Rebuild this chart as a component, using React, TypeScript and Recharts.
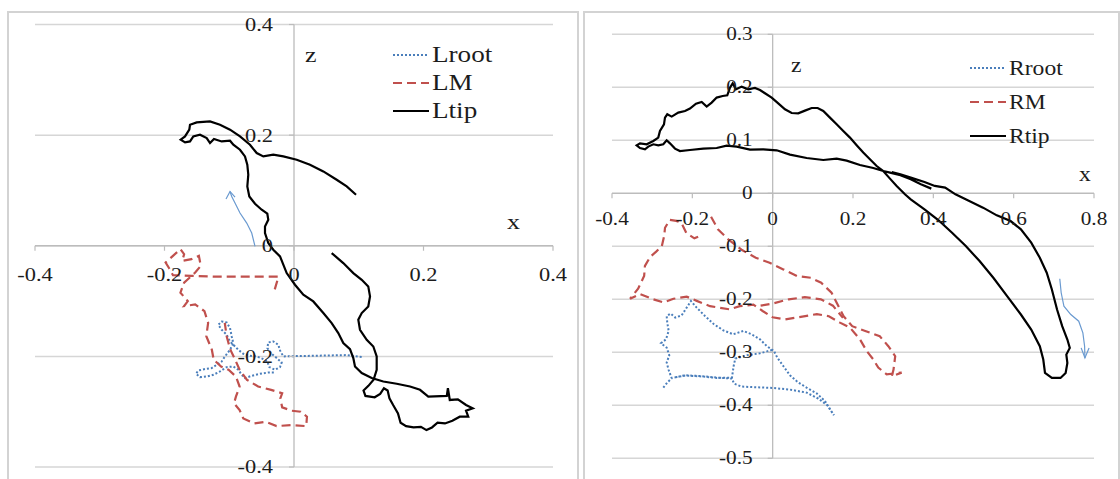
import React from 'react';
import { ScatterChart, Scatter, XAxis, YAxis, ReferenceLine, ReferenceDot } from 'recharts';

// ---------- tick values / labels ----------
const L_X_TICKS = [-0.4, -0.2, 0, 0.2, 0.4];
const L_X_LABELS = ['-0.4', '-0.2', '0', '0.2', '0.4'];
const L_Z_TICKS = [-0.4, -0.2, 0, 0.2, 0.4];
const L_Z_LABELS = ['-0.4', '-0.2', '0', '0.2', '0.4'];
const R_X_TICKS = [-0.4, -0.2, 0, 0.2, 0.4, 0.6, 0.8];
const R_X_LABELS = ['-0.4', '-0.2', '0', '0.2', '0.4', '0.6', '0.8'];
const R_Z_TICKS = [-0.5, -0.4, -0.3, -0.2, -0.1, 0, 0.1, 0.2, 0.3];
const R_Z_LABELS = ['-0.5', '-0.4', '-0.3', '-0.2', '-0.1', '0', '0.1', '0.2', '0.3'];

// ---------- left wing (x, z) ----------
const LROOT: number[][] = [
  [0.1045, -0.2013], [0.0813, -0.1977], [0.0556, -0.1983], [0.0299, -0.1989], [0.0041, -0.1995],
  [-0.0165, -0.2001], [-0.0216, -0.1893], [-0.0242, -0.179], [-0.0319, -0.173], [-0.0397, -0.1748],
  [-0.0412, -0.185], [-0.0345, -0.1953], [-0.0268, -0.2031], [-0.019, -0.211], [-0.0216, -0.2194],
  [-0.0293, -0.2242], [-0.0381, -0.2194], [-0.0412, -0.2092], [-0.0474, -0.2049], [-0.0577, -0.2001],
  [-0.068, -0.1989], [-0.0783, -0.1953], [-0.086, -0.1881], [-0.0937, -0.179], [-0.0988, -0.173],
  [-0.104, -0.1609], [-0.1117, -0.1519], [-0.1169, -0.1429], [-0.1117, -0.1369], [-0.104, -0.1387],
  [-0.0988, -0.1488], [-0.0962, -0.164], [-0.0937, -0.176], [-0.0988, -0.1881], [-0.1066, -0.2001],
  [-0.1117, -0.2092], [-0.1194, -0.2152], [-0.1271, -0.2212], [-0.1375, -0.223], [-0.1478, -0.2255],
  [-0.1514, -0.2315], [-0.1452, -0.2375], [-0.1348, -0.2363], [-0.1246, -0.2333], [-0.1143, -0.2273],
  [-0.104, -0.2194], [-0.0937, -0.2183], [-0.086, -0.2242], [-0.0808, -0.2333], [-0.0757, -0.2393],
  [-0.0653, -0.2351], [-0.0525, -0.2315], [-0.0397, -0.2291], [-0.0293, -0.2291],
];

const LM: number[][] = [
  [-0.0297, -0.0788], [-0.024, -0.0558], [-0.0554, -0.0558], [-0.0897, -0.0558], [-0.124, -0.0558],
  [-0.1583, -0.0545], [-0.1869, -0.0533], [-0.1926, -0.0412], [-0.1983, -0.0303], [-0.1869, -0.0182],
  [-0.1754, -0.0061], [-0.1697, -0.0152], [-0.1726, -0.0273], [-0.1583, -0.0242], [-0.1469, -0.0182],
  [-0.144, -0.0364], [-0.1526, -0.0485], [-0.1697, -0.0667], [-0.1754, -0.0848], [-0.164, -0.1],
  [-0.1697, -0.1091], [-0.1526, -0.1061], [-0.1383, -0.1182], [-0.1326, -0.1394], [-0.1354, -0.1636],
  [-0.1269, -0.1879], [-0.124, -0.2061], [-0.1126, -0.2182], [-0.1011, -0.2242], [-0.0897, -0.2364],
  [-0.084, -0.2545], [-0.0897, -0.2727], [-0.0926, -0.2848], [-0.084, -0.297], [-0.0783, -0.3121],
  [-0.0611, -0.3212], [-0.044, -0.3182], [-0.0269, -0.3261], [-0.004, -0.3242], [0.0189, -0.3261],
  [0.02, -0.3091], [0.0103, -0.3], [-0.004, -0.2982], [-0.0183, -0.2921], [-0.0211, -0.2758],
  [-0.0183, -0.2667], [-0.0354, -0.2606], [-0.0554, -0.2545], [-0.0726, -0.2424], [-0.084, -0.2242],
  [-0.0897, -0.2091], [-0.0983, -0.1879], [-0.104, -0.1636], [-0.1069, -0.1394],
];

const LTIP: number[][] = [
  [0.0958, 0.0922], [0.0814, 0.1072], [0.0659, 0.1193], [0.0453, 0.1344], [0.0247, 0.1465],
  [0.0042, 0.1555], [-0.0165, 0.1615], [-0.032, 0.1646], [-0.0474, 0.1615], [-0.0576, 0.1676],
  [-0.068, 0.1826], [-0.0834, 0.1976], [-0.0988, 0.2098], [-0.1143, 0.2188], [-0.1297, 0.2248],
  [-0.1503, 0.223], [-0.1606, 0.2188], [-0.1617, 0.2098], [-0.1683, 0.1976], [-0.175, 0.1917],
  [-0.1683, 0.1868], [-0.1606, 0.1886], [-0.1555, 0.1976], [-0.1452, 0.2007], [-0.1348, 0.1947],
  [-0.1297, 0.1857], [-0.1236, 0.1929], [-0.1117, 0.1886], [-0.0988, 0.1899], [-0.0937, 0.1826],
  [-0.0834, 0.1736], [-0.0757, 0.1615], [-0.0721, 0.1465], [-0.0706, 0.1284], [-0.0721, 0.1072],
  [-0.069, 0.0892], [-0.0602, 0.0759], [-0.0499, 0.0651], [-0.0412, 0.0579], [-0.0397, 0.047],
  [-0.0448, 0.0349], [-0.0448, 0.023], [-0.0397, 0.0049], [-0.032, -0.0072], [-0.0216, -0.0193],
  [-0.0113, -0.0494], [0.0015, -0.0705], [0.0144, -0.0886], [0.0298, -0.1007], [0.0453, -0.1217],
  [0.0582, -0.1398], [0.0684, -0.1579], [0.0761, -0.1759], [0.0865, -0.1868], [0.0916, -0.2031],
  [0.0942, -0.2183], [0.1046, -0.2302], [0.12, -0.2392], [0.1379, -0.2454], [0.1586, -0.2495],
  [0.1792, -0.2544], [0.1946, -0.2604], [0.2074, -0.2727], [0.236, -0.2715], [0.2377, -0.2576],
  [0.2406, -0.2788], [0.2531, -0.2776], [0.2657, -0.2879], [0.276, -0.2939], [0.2657, -0.2982],
  [0.2691, -0.3091], [0.256, -0.3091], [0.2446, -0.3164], [0.2331, -0.3212], [0.2217, -0.32],
  [0.2131, -0.3285], [0.2046, -0.3333], [0.196, -0.3273], [0.1846, -0.3285], [0.1731, -0.3261],
  [0.1646, -0.32], [0.1606, -0.303], [0.1531, -0.2879], [0.1474, -0.2758], [0.1446, -0.2618],
  [0.1389, -0.2576], [0.1331, -0.2679], [0.1246, -0.2739], [0.1103, -0.2715], [0.1074, -0.2618],
  [0.1149, -0.2533], [0.1229, -0.2424], [0.1277, -0.2242], [0.1277, -0.2001], [0.1225, -0.1821],
  [0.1123, -0.17], [0.1019, -0.1519], [0.0993, -0.1338], [0.1046, -0.1217], [0.1147, -0.1097],
  [0.1174, -0.0916], [0.1147, -0.0735], [0.1046, -0.0615], [0.0916, -0.0494], [0.0761, -0.0313],
  [0.0582, -0.0132],
];

const ARROW_L: number[][] = [
  [-0.0602, -0.0013], [-0.0653, 0.023], [-0.073, 0.041], [-0.0834, 0.0591], [-0.0911, 0.0772],
  [-0.0962, 0.0892], [-0.0988, 0.0982],
];
const ARROW_L_HEAD: number[][] = [[-0.105, 0.0844], [-0.0988, 0.0982], [-0.0911, 0.088]];

// ---------- right wing (x, z) ----------
const RROOT: number[][] = [
  [-0.2723, -0.3666], [-0.2624, -0.3572], [-0.2514, -0.349], [-0.2589, -0.3334], [-0.2639, -0.3194],
  [-0.2574, -0.3057], [-0.2639, -0.2912], [-0.2781, -0.283], [-0.2656, -0.2755], [-0.2589, -0.2598],
  [-0.2624, -0.244], [-0.2639, -0.2315], [-0.2539, -0.227], [-0.2425, -0.2345], [-0.2265, -0.2302],
  [-0.2141, -0.2157], [-0.2034, -0.2032], [-0.1892, -0.2157], [-0.1685, -0.2315], [-0.1461, -0.2472],
  [-0.123, -0.2585], [-0.0981, -0.266], [-0.0732, -0.2598], [-0.0523, -0.266], [-0.0316, -0.2755],
  [-0.0149, -0.2881], [0.0032, -0.2975], [0.0115, -0.31], [0.0264, -0.3258], [0.0431, -0.3434],
  [0.0637, -0.357], [0.0846, -0.3666], [0.1095, -0.3774], [0.1302, -0.3919], [0.1444, -0.4088],
  [0.1526, -0.4189], [0.1359, -0.4], [0.1135, -0.3874], [0.0846, -0.3761], [0.0431, -0.3704],
  [0.0015, -0.3673], [-0.0398, -0.366], [-0.0772, -0.3647], [-0.0963, -0.3591], [-0.1013, -0.3496],
  [-0.1394, -0.3477], [-0.181, -0.3447], [-0.2183, -0.3434], [-0.2457, -0.3477], [-0.2183, -0.344],
  [-0.181, -0.3453], [-0.1394, -0.3484], [-0.1013, -0.3477], [-0.0971, -0.3258], [-0.0931, -0.3119],
  [-0.0647, -0.3057], [-0.0316, -0.3019], [-0.001, -0.2957],
];

const RM: number[][] = [
  [-0.1534, -0.0441], [-0.1363, -0.068], [-0.1106, -0.0869], [-0.0763, -0.1071], [-0.042, -0.1216],
  [-0.0077, -0.131], [0.0266, -0.1436], [0.0609, -0.1562], [0.0951, -0.1594], [0.1209, -0.1688],
  [0.1466, -0.1877], [0.1594, -0.2066], [0.1766, -0.2318], [0.198, -0.2507], [0.2323, -0.2602],
  [0.2666, -0.2696], [0.288, -0.2885], [0.3051, -0.3074], [0.3009, -0.3326], [0.2966, -0.3452],
  [0.3211, -0.3383], [0.2838, -0.3415], [0.2629, -0.3289], [0.2504, -0.3132], [0.234, -0.2975],
  [0.2173, -0.2755], [0.1924, -0.2534], [0.1675, -0.244], [0.14, -0.232], [0.11, -0.228],
  [0.07, -0.233], [0.03, -0.238], [0.0, -0.234], [-0.025, -0.222], [-0.048, -0.21],
  [-0.082, -0.213], [-0.107, -0.219], [-0.131, -0.216], [-0.156, -0.213], [-0.189, -0.203],
  [-0.214, -0.195], [-0.247, -0.199], [-0.272, -0.206], [-0.297, -0.2], [-0.33, -0.19],
  [-0.355, -0.199], [-0.335, -0.18], [-0.32, -0.156], [-0.318, -0.137], [-0.305, -0.12],
  [-0.29, -0.11], [-0.276, -0.1], [-0.27, -0.08], [-0.268, -0.065], [-0.256, -0.05],
  [-0.24, -0.052], [-0.227, -0.056], [-0.215, -0.075], [-0.195, -0.085], [-0.18, -0.08],
];
const RM_BRANCH: number[][] = [
  [-0.03, -0.212], [0.0, -0.208], [0.04, -0.2], [0.08, -0.196], [0.12, -0.2], [0.15, -0.212], [0.175, -0.235],
];

const RTIP: number[][] = [
  [0.395, 0.0088], [0.369, 0.017], [0.3437, 0.0265], [0.318, 0.034], [0.2923, 0.039], [0.2753, 0.0421],
  [0.2504, 0.0477], [0.2173, 0.0534], [0.1842, 0.0617], [0.1593, 0.0654], [0.126, 0.0628], [0.0846, 0.0666],
  [0.0431, 0.073], [0.01, 0.0811], [-0.0234, 0.083], [-0.0565, 0.0824], [-0.0896, 0.0881], [-0.1145, 0.09],
  [-0.1394, 0.0855], [-0.1728, 0.0843], [-0.2059, 0.0817], [-0.2308, 0.0798], [-0.2432, 0.0843],
  [-0.2557, 0.0943], [-0.2639, 0.1], [-0.2723, 0.0925], [-0.2848, 0.0906], [-0.2972, 0.0925],
  [-0.3097, 0.0881], [-0.3179, 0.083], [-0.3303, 0.0855], [-0.3386, 0.0906], [-0.3303, 0.0943],
  [-0.3137, 0.0925], [-0.2972, 0.0987], [-0.2848, 0.1051], [-0.2806, 0.1176], [-0.2706, 0.1302],
  [-0.2681, 0.1428], [-0.2624, 0.1491], [-0.2514, 0.1447], [-0.235, 0.1523], [-0.2183, 0.1553],
  [-0.2059, 0.1598], [-0.1909, 0.1692], [-0.1767, 0.1723], [-0.1643, 0.1636], [-0.1519, 0.1711],
  [-0.1394, 0.1806], [-0.1245, 0.1836], [-0.113, 0.1849], [-0.1063, 0.1994], [-0.0996, 0.2075],
  [-0.0914, 0.1962], [-0.0772, 0.2013], [-0.0607, 0.1962], [-0.0441, 0.1987], [-0.0316, 0.1949],
  [-0.0192, 0.1887], [-0.0025, 0.1806], [0.0139, 0.1698], [0.0306, 0.1585], [0.0473, 0.1515],
  [0.0637, 0.1509], [0.0804, 0.156], [0.0971, 0.1609], [0.112, 0.1609], [0.126, 0.1553], [0.1426, 0.1428],
  [0.1593, 0.1302], [0.1758, 0.1176], [0.1924, 0.1051], [0.2091, 0.0906], [0.2255, 0.0768], [0.2422, 0.0642],
  [0.2589, 0.0515], [0.2753, 0.0421], [0.292, 0.0277], [0.3087, 0.0138], [0.3293, -0.0019], [0.3437, -0.0113],
  [0.378, -0.0302], [0.4123, -0.0504], [0.4466, -0.0743], [0.4808, -0.0995], [0.5151, -0.1279],
  [0.5494, -0.1594], [0.5837, -0.194], [0.618, -0.2287], [0.6437, -0.257], [0.6651, -0.2885],
  [0.6737, -0.3137], [0.678, -0.3389], [0.6951, -0.3484], [0.7166, -0.3484], [0.7294, -0.3389],
  [0.7337, -0.32], [0.7311, -0.3043], [0.7397, -0.2917], [0.7337, -0.2759], [0.7208, -0.2507],
  [0.708, -0.2192], [0.6951, -0.1814], [0.6823, -0.1499], [0.6651, -0.1216], [0.6437, -0.0932],
  [0.618, -0.068], [0.5923, -0.0523], [0.558, -0.0416], [0.5237, -0.0271], [0.4894, -0.0145],
  [0.4551, -0.0019], [0.4294, 0.0107], [0.4037, 0.0139], [0.378, 0.0214], [0.3437, 0.0296],
  [0.318, 0.0359], [0.2966, 0.0403],
];

const ARROW_R: number[][] = [
  [0.7148, -0.1613], [0.7183, -0.1877], [0.7251, -0.2129], [0.7423, -0.2287], [0.762, -0.2413],
  [0.7723, -0.2633], [0.7766, -0.2885], [0.7774, -0.3106],
];
const ARROW_R_HEAD: number[][] = [[0.768, -0.2917], [0.7774, -0.3106], [0.7877, -0.2917]];

// ---------- styles ----------
const FONT = "'Liberation Serif', 'Times New Roman', serif";
const SX = 1.18;
const GRID = '#d6d6d6';
const AXIS = '#bcbcbc';
const TXT = '#1c1c1c';
const BLUE = '#4a7ebb';
const RED = '#c0504d';
const ARROW = '#6a9ad0';

const toPts = (a: number[][]) => a.map(([x, z]) => ({ x, z }));
const NoDot = () => <g />;

type Ser = { name: string; data: number[][]; color: string; width: number; dash?: string };

type PanelProps = {
  left: number; width: number; height: number;
  margin: { top: number; right: number; bottom: number; left: number };
  xDomain: [number, number]; zDomain: [number, number];
  xTicks: number[]; xLabels: string[]; zTicks: number[]; zLabels: string[];
  series: Ser[]; fontSize: number; xDy: number; zDx: number;
};

function Panel(p: PanelProps) {
  const xTickShape = (label: string) => (props: any) => (
    <g>
      <line x1={props.cx} x2={props.cx} y1={props.cy} y2={props.cy + 5} stroke={AXIS} strokeWidth={1.2} />
      <text transform={`translate(${props.cx},${props.cy + p.xDy}) scale(${SX},1)`} textAnchor="middle"
        fontSize={p.fontSize} fontFamily={FONT} fill={TXT}>{label}</text>
    </g>
  );
  const zTickShape = (label: string) => (props: any) => (
    <g>
      <line x1={props.cx - 5} x2={props.cx} y1={props.cy} y2={props.cy} stroke={AXIS} strokeWidth={1.2} />
      <text transform={`translate(${props.cx - p.zDx},${props.cy + p.fontSize * 0.34}) scale(${SX},1)`} textAnchor="end"
        fontSize={p.fontSize} fontFamily={FONT} fill={TXT}>{label}</text>
    </g>
  );
  return (
    <div style={{ position: 'absolute', left: p.left, top: 0 }}>
      <ScatterChart width={p.width} height={p.height} margin={p.margin}>
        <XAxis type="number" dataKey="x" domain={p.xDomain} hide allowDataOverflow />
        <YAxis type="number" dataKey="z" domain={p.zDomain} hide allowDataOverflow />
        {p.zTicks.map((t) => (
          <ReferenceLine key={'g' + t} y={t} stroke={GRID} strokeWidth={1.5} />
        ))}
        <ReferenceLine x={0} stroke={AXIS} strokeWidth={1.3} />
        <ReferenceLine y={0} stroke={AXIS} strokeWidth={1.3} />
        {p.series.map((s) => (
          <Scatter key={s.name} name={s.name} data={toPts(s.data)} fill="none"
            line={{ stroke: s.color, strokeWidth: s.width, strokeDasharray: s.dash, fill: 'none' }}
            lineType="joint" shape={NoDot} isAnimationActive={false} />
        ))}
        {p.xTicks.map((t, i) => (
          <ReferenceDot key={'xt' + t} x={t} y={0} r={0} shape={xTickShape(p.xLabels[i])} />
        ))}
        {p.zTicks.map((t, i) => (
          <ReferenceDot key={'zt' + t} x={0} y={t} r={0} shape={zTickShape(p.zLabels[i])} />
        ))}
      </ScatterChart>
    </div>
  );
}

function LegendBox(props: { left: number; top: number; gap: number; size: number; items: Ser[] }) {
  return (
    <div style={{ position: 'absolute', left: props.left, top: props.top }}>
      {props.items.map((s, i) => (
        <div key={s.name} style={{ position: 'absolute', left: 0, top: i * props.gap, height: 26, width: 140 }}>
          <svg width={38} height={26} style={{ position: 'absolute', left: 0, top: 0 }}>
            <line x1={1} x2={37} y1={13} y2={13} stroke={s.color} strokeWidth={s.width} strokeDasharray={s.dash} />
          </svg>
          <span style={{
            position: 'absolute', left: 40, top: 13 - props.size * 0.62, fontFamily: FONT, fontSize: props.size,
            color: TXT, transform: `scaleX(${SX})`, transformOrigin: 'left center', whiteSpace: 'nowrap', lineHeight: 1.2,
          }}>{s.name}</span>
        </div>
      ))}
    </div>
  );
}

function Title(props: { x: number; y: number; size: number; text: string }) {
  return (
    <span style={{
      position: 'absolute', left: props.x, top: props.y, fontFamily: FONT, fontSize: props.size, color: TXT,
      transform: `scaleX(${SX})`, transformOrigin: 'left top', lineHeight: 1,
    }}>{props.text}</span>
  );
}

const leftSeries: Ser[] = [
  { name: 'Lroot', data: LROOT, color: BLUE, width: 2, dash: '2 2' },
  { name: 'LM', data: LM, color: RED, width: 2.2, dash: '9 5' },
  { name: 'Ltip', data: LTIP, color: '#000', width: 2.2 },
];
const leftArrows: Ser[] = [
  { name: 'arrowL', data: ARROW_L, color: ARROW, width: 1.2 },
  { name: 'arrowLHead', data: ARROW_L_HEAD, color: ARROW, width: 1.2 },
];
const rightSeries: Ser[] = [
  { name: 'Rroot', data: RROOT, color: BLUE, width: 2, dash: '2 2' },
  { name: 'RM', data: RM, color: RED, width: 2.2, dash: '9 5' },
  { name: 'Rtip', data: RTIP, color: '#000', width: 2.2 },
];
const rightExtra: Ser[] = [
  { name: 'RMbranch', data: RM_BRANCH, color: RED, width: 2.2, dash: '9 5' },
  { name: 'arrowR', data: ARROW_R, color: ARROW, width: 1.2 },
  { name: 'arrowRHead', data: ARROW_R_HEAD, color: ARROW, width: 1.2 },
];

export default function App() {
  return (
    <div style={{ position: 'absolute', left: 0, top: 0, width: 1120, height: 479, background: '#fff', overflow: 'hidden' }}>
      <div style={{ position: 'absolute', left: 7, top: 11, width: 568, height: 500, border: '2px solid #d3d3d3' }} />
      <div style={{ position: 'absolute', left: 583, top: 11, width: 533, height: 500, border: '2px solid #d3d3d3' }} />
      <Panel left={0} width={580} height={479} margin={{ top: 24.5, right: 27, bottom: 12, left: 35 }}
        xDomain={[-0.4, 0.4]} zDomain={[-0.4, 0.4]}
        xTicks={L_X_TICKS} xLabels={L_X_LABELS} zTicks={L_Z_TICKS} zLabels={L_Z_LABELS}
        series={[...leftSeries, ...leftArrows]} fontSize={19} xDy={35} zDx={21} />
      <Panel left={583} width={537} height={479} margin={{ top: 34.3, right: 26, bottom: 20.7, left: 29 }}
        xDomain={[-0.4, 0.8]} zDomain={[-0.5, 0.3]}
        xTicks={R_X_TICKS} xLabels={R_X_LABELS} zTicks={R_Z_TICKS} zLabels={R_Z_LABELS}
        series={[...rightSeries, ...rightExtra]} fontSize={18} xDy={32} zDx={20} />
      <LegendBox left={392} top={42} gap={28} size={23} items={leftSeries} />
      <LegendBox left={969} top={55} gap={34} size={20} items={rightSeries} />
      <Title x={305} y={44} size={22} text="z" />
      <Title x={507} y={211} size={22} text="x" />
      <Title x={791} y={55} size={20} text="z" />
      <Title x={1079} y={164} size={20} text="x" />
    </div>
  );
}
